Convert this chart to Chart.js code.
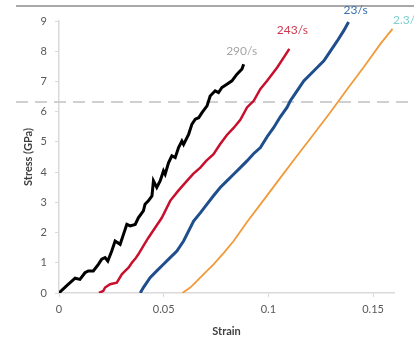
<!DOCTYPE html>
<html>
<head>
<meta charset="utf-8">
<script src="https://cdn.jsdelivr.net/npm/chart.js@4"></script>
<style>
  html, body { margin: 0; padding: 0; background: #fff; }
  #wrap { width: 414px; height: 344px; }
</style>
</head>
<body>
<div id="wrap"><canvas id="stressChart" width="414" height="344"></canvas></div>
<script>
/* Stress–strain curves at four strain rates */

const X_TICKS = [0, 0.05, 0.1, 0.15];
const Y_TICKS = [0, 1, 2, 3, 4, 5, 6, 7, 8, 9];
const RATE_LABELS = ['290/s', '243/s', '23/s', '2.3/s'];
const THRESHOLD = 6.32;

// each series: [strain, stress]
const RATE_290 = [
  [0, 0], [0.0013, 0.09], [0.0045, 0.29], [0.0077, 0.49], [0.0100, 0.45], [0.0124, 0.67],
  [0.0140, 0.73], [0.0164, 0.73], [0.0188, 0.95], [0.0204, 1.12], [0.0220, 1.17], [0.0233, 1.06],
  [0.0252, 1.39], [0.0268, 1.72], [0.0292, 1.61], [0.0308, 1.94], [0.0324, 2.27], [0.0340, 2.22],
  [0.0364, 2.27], [0.0379, 2.49], [0.0403, 2.72], [0.0411, 2.94], [0.0427, 3.05], [0.0444, 3.21],
  [0.0451, 3.71], [0.0467, 3.49], [0.0483, 3.71], [0.0499, 4.04], [0.0507, 3.93], [0.0523, 4.31],
  [0.0539, 4.54], [0.0555, 4.48], [0.0571, 4.81], [0.0587, 5.03], [0.0595, 4.92], [0.0619, 5.25],
  [0.0635, 5.59], [0.0651, 5.75], [0.0667, 5.80], [0.0683, 5.97], [0.0707, 6.19], [0.0722, 6.52],
  [0.0746, 6.69], [0.0762, 6.63], [0.0778, 6.80], [0.0802, 6.91], [0.0826, 7.02], [0.0850, 7.24],
  [0.0874, 7.41], [0.0882, 7.57],
];
const RATE_243 = [
  [0.0191, 0], [0.0212, 0.07], [0.0220, 0.18], [0.0244, 0.29], [0.0276, 0.34], [0.0300, 0.62],
  [0.0316, 0.73], [0.0332, 0.84], [0.0348, 1.00], [0.0364, 1.13], [0.0379, 1.28], [0.0403, 1.56],
  [0.0427, 1.83], [0.0459, 2.16], [0.0491, 2.49], [0.0531, 3.05], [0.0569, 3.38], [0.0611, 3.71],
  [0.0641, 3.94], [0.0675, 4.15], [0.0703, 4.37], [0.0738, 4.59], [0.0770, 4.93], [0.0802, 5.23],
  [0.0834, 5.46], [0.0866, 5.73], [0.0898, 6.14], [0.0930, 6.36], [0.0962, 6.75], [0.0994, 7.02],
  [0.1042, 7.46], [0.1073, 7.79], [0.1100, 8.08],
];
const RATE_23 = [
  [0.0388, 0], [0.0403, 0.18], [0.0435, 0.51], [0.0467, 0.73], [0.0499, 0.95], [0.0531, 1.17],
  [0.0563, 1.39], [0.0595, 1.72], [0.0643, 2.38], [0.0675, 2.65], [0.0707, 2.94], [0.0737, 3.21],
  [0.0770, 3.49], [0.0802, 3.71], [0.0834, 3.93], [0.0866, 4.15], [0.0898, 4.37], [0.0928, 4.60],
  [0.0962, 4.81], [0.0994, 5.17], [0.1025, 5.47], [0.1057, 5.83], [0.1089, 6.14], [0.1105, 6.36],
  [0.1137, 6.69], [0.1169, 7.02], [0.1201, 7.24], [0.1233, 7.46], [0.1265, 7.68], [0.1297, 8.01],
  [0.1329, 8.34], [0.1360, 8.68], [0.1383, 8.97],
];
const RATE_2_3 = [
  [0.0589, 0], [0.0627, 0.18], [0.0659, 0.40], [0.0690, 0.62], [0.0738, 0.95], [0.0786, 1.32],
  [0.0834, 1.72], [0.0898, 2.35], [0.0978, 3.08], [0.1057, 3.81], [0.1137, 4.54], [0.1217, 5.26],
  [0.1297, 5.99], [0.1377, 6.75], [0.1456, 7.48], [0.1536, 8.25], [0.1593, 8.74],
];

const SERIES = [
  { data: RATE_290, color: '#000000', width: 3, label: RATE_LABELS[0], labelColor: '#a6a6a6', dx: -2, dy: -13 },
  { data: RATE_243, color: '#c8102e', width: 2.5, label: RATE_LABELS[1], labelColor: '#d03a50', dx: 3, dy: -19 },
  { data: RATE_23, color: '#1f4e8c', width: 3, label: RATE_LABELS[2], labelColor: '#3a6fb0', dx: 7, dy: -12 },
  { data: RATE_2_3, color: '#f29a3a', width: 1.8, label: RATE_LABELS[3], labelColor: '#7fcfcf', dx: 14, dy: -9 },
];

const FONT = 'Lato, "Open Sans", sans-serif';

/* ---- frame + dashed threshold line ---- */
const framePlugin = {
  id: 'frame',
  beforeDatasetsDraw(chart) {
    const { ctx, width } = chart;
    const y = chart.scales.y.getPixelForValue(THRESHOLD);
    ctx.save();
    ctx.strokeStyle = '#d0d0d0';
    ctx.lineWidth = 2;
    ctx.setLineDash([12, 7]);
    ctx.beginPath();
    ctx.moveTo(16, y);
    ctx.lineTo(width, y);
    ctx.stroke();
    ctx.setLineDash([]);
    ctx.strokeStyle = '#8c8c8c';
    ctx.lineWidth = 1.5;
    ctx.beginPath();
    ctx.moveTo(16, 6);
    ctx.lineTo(width, 6);
    ctx.stroke();
    ctx.restore();
  },
};

/* ---- rate labels near curve ends ---- */
const rateLabels = {
  id: 'rateLabels',
  afterDatasetsDraw(chart) {
    const { ctx } = chart;
    const xs = chart.scales.x;
    const ys = chart.scales.y;
    ctx.save();
    ctx.font = '12px ' + FONT;
    ctx.textAlign = 'center';
    ctx.textBaseline = 'middle';
    SERIES.forEach((s) => {
      const last = s.data[s.data.length - 1];
      ctx.fillStyle = s.labelColor;
      ctx.fillText(s.label, xs.getPixelForValue(last[0]) + s.dx, ys.getPixelForValue(last[1]) + s.dy);
    });
    ctx.restore();
  },
};

new Chart(document.getElementById('stressChart'), {
  type: 'line',
  data: {
    datasets: SERIES.map((s) => ({
      label: s.label,
      data: s.data.map(([x, y]) => ({ x, y })),
      borderColor: s.color,
      borderWidth: s.width,
      pointRadius: 0,
      tension: 0,
      fill: false,
    })),
  },
  options: {
    responsive: false,
    animation: false,
    layout: { padding: { left: 0, right: 20, top: 21, bottom: 0 } },
    plugins: { legend: { display: false }, tooltip: { enabled: false } },
    scales: {
      x: {
        type: 'linear',
        min: 0,
        max: 0.16,
        afterBuildTicks: (scale) => { scale.ticks = X_TICKS.map((v) => ({ value: v })); },
        afterFit: (scale) => { scale.height = 51; },
        border: { color: '#d9d9d9', width: 1.5 },
        grid: { drawOnChartArea: false, color: '#d9d9d9', tickLength: 4 },
        ticks: {
          color: '#595959',
          font: { family: FONT, size: 11 },
          padding: 6,
          maxRotation: 0,
          callback: (v) => String(v),
        },
        title: {
          display: true,
          text: 'Strain',
          color: '#404040',
          font: { family: FONT, size: 11, weight: 'bold' },
          padding: { top: 0, bottom: 6 },
        },
      },
      y: {
        min: 0,
        max: 9,
        afterBuildTicks: (scale) => { scale.ticks = Y_TICKS.map((v) => ({ value: v })); },
        afterFit: (scale) => { scale.width = 59; },
        border: { color: '#d9d9d9', width: 1.5 },
        grid: { drawOnChartArea: false, color: '#d9d9d9', tickLength: 4 },
        ticks: {
          color: '#595959',
          font: { family: FONT, size: 11 },
          padding: 8,
          callback: (v) => String(v),
        },
        title: {
          display: true,
          text: 'Stress (GPa)',
          color: '#404040',
          font: { family: FONT, size: 11, weight: 'bold' },
          padding: { top: 22, bottom: 0 },
        },
      },
    },
  },
  plugins: [framePlugin, rateLabels],
});
</script>
</body>
</html>
